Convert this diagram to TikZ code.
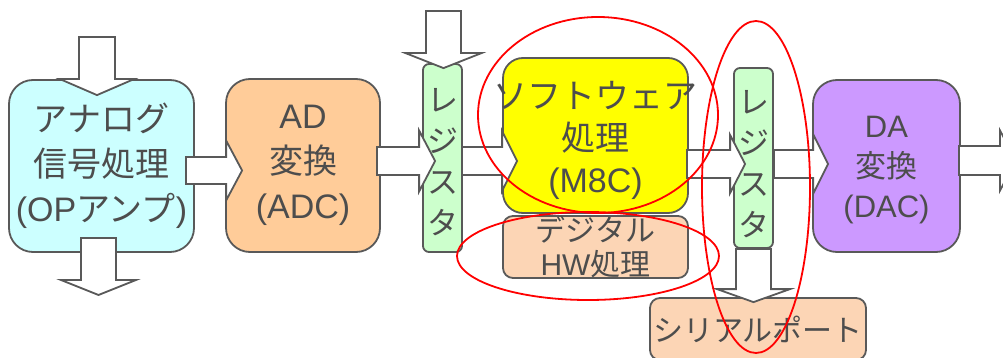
\documentclass[tikz,border=0pt]{standalone}
\usepackage{fontspec}
\setmainfont{Liberation Sans}
\newfontfamily\jp{Noto Sans CJK JP}
\usetikzlibrary{calc}
\definecolor{txt}{HTML}{4D4D4D}
\definecolor{edge}{HTML}{595959}
\definecolor{cyanf}{HTML}{CCFFFF}
\definecolor{orangef}{HTML}{FFCC99}
\definecolor{peachf}{HTML}{FCD5B5}
\definecolor{greenf}{HTML}{CCFFCC}
\definecolor{purplef}{HTML}{CC99FF}
\definecolor{yellowf}{HTML}{FFFF00}
\definecolor{redl}{HTML}{FF0000}
\tikzset{
  box/.style={draw=edge, line width=1.8pt, text=txt, align=center, inner sep=0pt},
  blockarrow/.style={draw=edge, fill=white, line width=1.8pt, line join=miter},
  mark ring/.style={draw=redl, line width=1.8pt},
  bigtext/.style={font=\fontsize{34}{45}\selectfont},
  midtext/.style={font=\fontsize{31}{41}\selectfont},
  smalltext/.style={font=\fontsize{30}{34}\selectfont},
}
% right-pointing block arrow: start, tip, head length, shaft half width, head half width
\newcommand\blockright[5]{\draw[blockarrow] let \p1=(#1), \p2=(#2) in
  (\x1,\y2+#4pt) -- (\x2-#3pt,\y2+#4pt) -- (\x2-#3pt,\y2+#5pt) -- (\x2,\y2)
  -- (\x2-#3pt,\y2-#5pt) -- (\x2-#3pt,\y2-#4pt) -- (\x1,\y2-#4pt) -- cycle;}
% down-pointing block arrow
\newcommand\blockdown[5]{\draw[blockarrow] let \p1=(#1), \p2=(#2) in
  (\x2-#4pt,\y1) -- (\x2-#4pt,\y2+#3pt) -- (\x2-#5pt,\y2+#3pt) -- (\x2,\y2)
  -- (\x2+#5pt,\y2+#3pt) -- (\x2+#4pt,\y2+#3pt) -- (\x2+#4pt,\y1) -- cycle;}
\begin{document}
\begin{tikzpicture}[x=1pt,y=-1pt]
\useasboundingbox (0,0) rectangle (1003,358);
% boxes
\node[box, bigtext, fill=cyanf, rounded corners=24pt, minimum width=185pt, minimum height=172pt] (ana) at (101.5,166)
  {{\jp アナログ}\\{\jp 信号処理}\\(OP{\jp アンプ})};
\node[box, bigtext, fill=orangef, rounded corners=24pt, minimum width=154pt, minimum height=173pt] (ad) at (303,165.5)
  {AD\\{\jp 変換}\\(ADC)};
\node[box, fill=greenf, rounded corners=6pt, minimum width=39pt, minimum height=188pt] (reg1) at (442.5,158) {};
\node[text=txt, midtext, align=center, inner sep=0pt] (reg1t) at (442.5,162) {\jp レ\\\jp ジ\\\jp ス\\\jp タ};
\node[box, fill=peachf, rounded corners=10pt, minimum width=185pt, minimum height=62pt] (hw) at (595.5,247) {};
\node[text=txt, smalltext, align=center, inner sep=0pt] (hwt) at (595.5,247)
  {{\jp デジタル}\\HW{\jp 処理}};
\node[box, bigtext, fill=yellowf, rounded corners=20pt, minimum width=185pt, minimum height=155pt] (sw) at (595.5,135.5)
  {};
\node[text=txt, font=\fontsize{34}{42}\selectfont, align=center, inner sep=0pt] (swt) at (595.5,140)
  {{\jp ソフトウェア}\\{\jp 処理}\\(M8C)};
\node[box, fill=greenf, rounded corners=6pt, minimum width=39pt, minimum height=180pt] (reg2) at (753.5,158) {};
\node[text=txt, midtext, align=center, inner sep=0pt] (reg2t) at (753.5,164) {\jp レ\\\jp ジ\\\jp ス\\\jp タ};
\node[box, fill=purplef, rounded corners=24pt, minimum width=147pt, minimum height=172pt] (da) at (886.5,166)
  {};
\node[text=txt, font=\fontsize{31}{40}\selectfont, align=center, inner sep=0pt] (dat) at (886.5,170)
  {DA\\{\jp 変換}\\(DAC)};
\node[box, smalltext, fill=peachf, rounded corners=10pt, minimum width=216pt, minimum height=62pt] (ser) at (758,329)
  {\jp シリアルポート};
% free ends
\coordinate (in1) at (97,37);
\coordinate (out1) at (98.5,295);
\coordinate (in2) at (443.5,11);
\coordinate (out2) at (1016,160.5);
% block arrows
\blockdown{in1}{$(ana.north)+(-4.5,16)$}{16}{18}{37}
\blockdown{$(ana.south)+(-3,-15)$}{out1}{15}{17.5}{37.5}
\blockright{$(ana.east)+(-9,0)$}{$(ad.west)+(17,5)$}{16}{13.5}{30}
\blockright{$(ad.east)+(-4,0)$}{$(reg1.west)+(13,3)$}{16}{14}{30.5}
\blockdown{in2}{$(reg1.north)+(1,5)$}{15}{17.5}{38}
\blockright{$(reg1.east)+(-1,0)$}{$(sw.west)+(15,25.5)$}{15}{14}{30}
\blockright{$(sw.east)+(-2,0)$}{$(reg2.west)+(12,6)$}{15}{14}{29}
\blockright{reg2.east}{$(da.west)+(16,-2)$}{15}{14}{30}
\blockright{$(da.east)+(-2,0)$}{out2}{16}{14.5}{30}
\blockdown{reg2.south}{$(ser.north)+(-4.5,5)$}{13}{17.5}{36.5}
% red marking ellipses
\draw[mark ring] (598,115) ellipse [x radius=120, y radius=98];
\draw[mark ring] (588,256) ellipse [x radius=131, y radius=44];
\draw[mark ring] (756,187) ellipse [x radius=54, y radius=166];
\end{tikzpicture}
\end{document}
